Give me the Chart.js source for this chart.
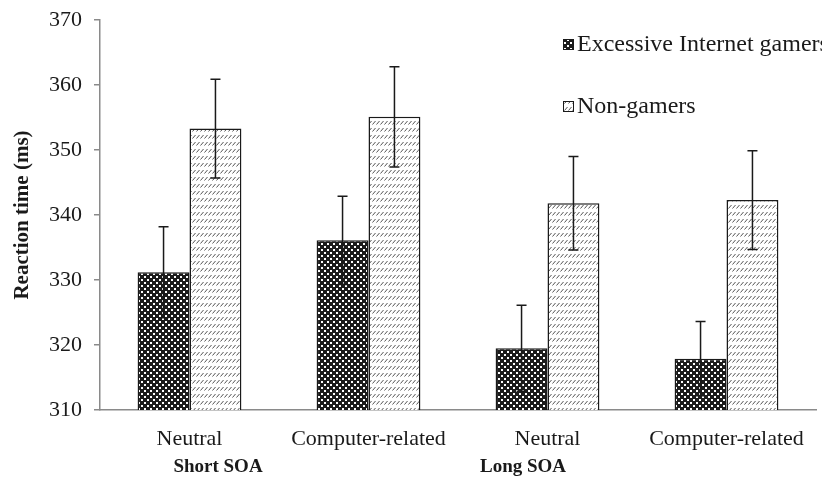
<!DOCTYPE html>
<html>
<head>
<meta charset="utf-8">
<script src="https://cdn.jsdelivr.net/npm/chart.js@4.4.1/dist/chart.umd.min.js"></script>
<style>
  html, body { margin: 0; padding: 0; background: #fff; }
  #wrap { width: 822px; height: 479px; }
</style>
</head>
<body>
<div id="wrap"><canvas id="rtChart" width="822" height="479"></canvas></div>
<script>
// values
const categories = ['Neutral', 'Computer-related', 'Neutral', 'Computer-related'];
const groups = ['Short SOA', 'Long SOA'];
const gamers = [331.2, 336.1, 319.5, 317.9];
const gamersErr = [7.0, 6.8, 6.6, 5.7];
const nonGamers = [353.3, 355.1, 341.8, 342.3];
const nonGamersErr = [7.6, 7.7, 7.2, 7.6];
const seriesNames = ['Excessive Internet gamers', 'Non-gamers'];
const yTicks = [310, 320, 330, 340, 350, 360, 370];

const serif = '"Liberation Serif", "DejaVu Serif", serif';

function makePattern(kind) {
  const c = document.createElement('canvas');
  const g = c.getContext('2d');
  if (kind === 'check') {
    c.width = 6; c.height = 6;
    g.fillStyle = '#1c1c1c';
    g.fillRect(0, 0, 6, 6);
    g.fillStyle = '#ffffff';
    g.fillRect(0, 0, 2, 2);
    g.fillRect(3, 3, 2, 2);
  } else {
    c.width = 4; c.height = 7;
    g.fillStyle = '#ffffff';
    g.fillRect(0, 0, 4, 7);
    g.strokeStyle = '#555';
    g.lineWidth = 1;
    g.beginPath();
    g.moveTo(0.5, 5.5);
    g.lineTo(3.5, 2);
    g.stroke();
  }
  return document.getElementById('rtChart').getContext('2d').createPattern(c, 'repeat');
}

const checkPat = makePattern('check');
const hatchPat = makePattern('hatch');

// error bars, group labels and the legend
const extras = {
  id: 'extras',
  afterDatasetsDraw(chart) {
    const ctx = chart.ctx;
    const y = chart.scales.y;
    const errs = [gamersErr, nonGamersErr];
    ctx.save();
    ctx.strokeStyle = '#1a1a1a';
    ctx.lineWidth = 1.5;
    chart.data.datasets.forEach((ds, di) => {
      chart.getDatasetMeta(di).data.forEach((bar, i) => {
        const top = y.getPixelForValue(ds.data[i] + errs[di][i]);
        const bot = y.getPixelForValue(ds.data[i] - errs[di][i]);
        ctx.beginPath();
        ctx.moveTo(bar.x, top); ctx.lineTo(bar.x, bot);
        ctx.moveTo(bar.x - 5, top); ctx.lineTo(bar.x + 5, top);
        ctx.moveTo(bar.x - 5, bot); ctx.lineTo(bar.x + 5, bot);
        ctx.stroke();
      });
    });
    ctx.restore();
  },
  afterDraw(chart) {
    const ctx = chart.ctx;
    ctx.save();
    ctx.fillStyle = '#1a1a1a';
    ctx.font = 'bold 19px ' + serif;
    ctx.textAlign = 'center';
    ctx.textBaseline = 'middle';
    ctx.fillText(groups[0], 218, 467);
    ctx.fillText(groups[1], 523, 467);

    const pats = [checkPat, hatchPat];
    const rows = [45, 107];
    ctx.font = '24px ' + serif;
    ctx.textAlign = 'left';
    seriesNames.forEach((name, i) => {
      ctx.fillStyle = pats[i];
      ctx.fillRect(563, rows[i] - 6, 11, 11);
      ctx.strokeStyle = '#1a1a1a';
      ctx.lineWidth = 1;
      ctx.strokeRect(563.5, rows[i] - 5.5, 10, 10);
      ctx.fillStyle = '#1a1a1a';
      ctx.fillText(name, 577, rows[i]);
    });
    ctx.restore();
  }
};

new Chart(document.getElementById('rtChart'), {
  type: 'bar',
  data: {
    labels: categories,
    datasets: [
      { label: seriesNames[0], data: gamers, backgroundColor: checkPat, borderColor: '#1a1a1a', borderWidth: 1.5 },
      { label: seriesNames[1], data: nonGamers, backgroundColor: hatchPat, borderColor: '#1a1a1a', borderWidth: 1.5 }
    ]
  },
  options: {
    responsive: false,
    animation: false,
    layout: { padding: { top: 20, right: 6 } },
    datasets: { bar: { categoryPercentage: 0.58, barPercentage: 1.0 } },
    plugins: { legend: { display: false }, tooltip: { enabled: false } },
    scales: {
      x: {
        grid: { display: false },
        border: { color: '#8a8a8a', width: 1.5 },
        ticks: { color: '#1a1a1a', font: { family: serif, size: 22 }, padding: 8, maxRotation: 0 },
        afterFit: s => { s.height = 69; }
      },
      y: {
        min: 310,
        max: 370,
        afterBuildTicks: s => { s.ticks = yTicks.map(v => ({ value: v })); },
        grid: { drawOnChartArea: false, drawTicks: true, tickLength: 6, color: '#8a8a8a', lineWidth: 1.5 },
        border: { color: '#8a8a8a', width: 1.5 },
        ticks: { color: '#1a1a1a', font: { family: serif, size: 22 }, padding: 12 },
        title: { display: true, text: 'Reaction time (ms)', color: '#1a1a1a', font: { family: serif, size: 21, weight: 'bold' }, padding: { top: 10, bottom: 8 } },
        afterFit: s => { s.width = 100; s.paddingTop = 0; s.paddingBottom = 0; }
      }
    }
  },
  plugins: [extras]
});
</script>
</body>
</html>
